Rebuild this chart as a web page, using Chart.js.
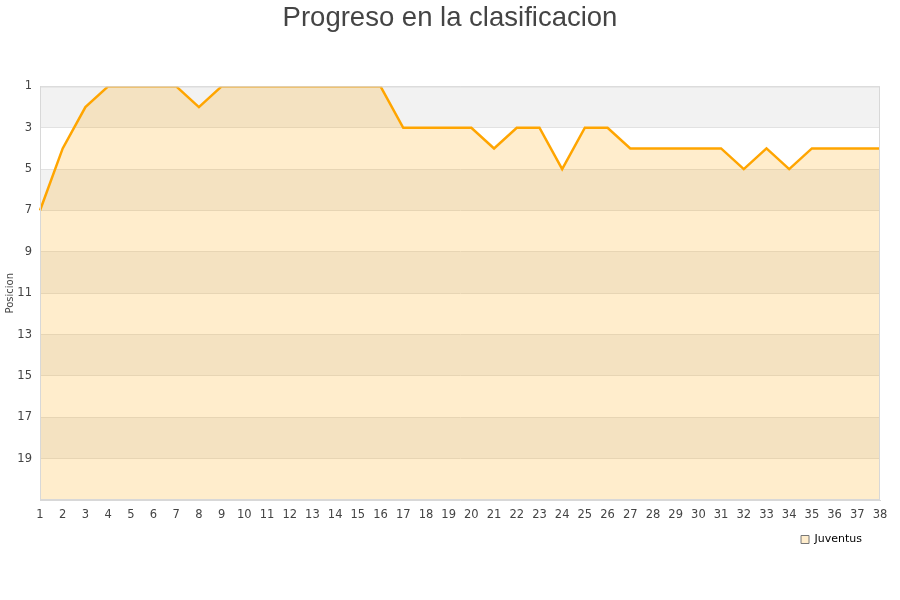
<!DOCTYPE html>
<html>
<head>
<meta charset="utf-8">
<script src="https://cdn.jsdelivr.net/npm/chart.js@4.4.0/dist/chart.umd.min.js"></script>
<style>
  html, body { margin: 0; padding: 0; background: #fff; }
  #wrap { width: 900px; height: 600px; }
</style>
</head>
<body>
<div id="wrap"><canvas id="grafico" width="900" height="600"></canvas></div>
<script>
const jornadas = [];
for (let j = 1; j <= 38; j++) jornadas.push(String(j));
const posiciones = [7, 4, 2, 1, 1, 1, 1, 2, 1, 1, 1, 1, 1, 1, 1, 1, 3, 3, 3, 3,
  4, 3, 3, 5, 3, 3, 4, 4, 4, 4, 4, 5, 4, 5, 4, 4, 4, 4];
const equipo = 'Juventus';
const titulo = 'Progreso en la clasificacion';

// franjas grises alternas del fondo
const fondoFranjas = {
  id: 'fondoFranjas',
  afterLayout(chart) {
    // la leyenda queda un poco mas a la izquierda, el titulo centrado en el lienzo
    chart.legend.left -= 14;
    chart.legend.right -= 14;
    chart.titleBlock.left += 10;
    chart.titleBlock.right += 10;
  },
  beforeDraw(chart) {
    const { ctx, chartArea } = chart;
    const y = chart.scales.y;
    ctx.save();
    ctx.fillStyle = '#f2f2f2';
    for (let v = 1; v < 21; v += 4) {
      const top = y.getPixelForValue(v);
      const bot = y.getPixelForValue(v + 2);
      ctx.fillRect(chartArea.left, top, chartArea.right - chartArea.left, bot - top);
    }
    ctx.restore();
  },
  afterDatasetsDraw(chart) {
    const { ctx, chartArea } = chart;
    ctx.save();
    ctx.strokeStyle = '#d8d8d8';
    ctx.lineWidth = 1;
    ctx.strokeRect(chartArea.left + 0.5, chartArea.top + 0.5,
      chartArea.right - chartArea.left - 1, chartArea.bottom - chartArea.top - 1);
    ctx.restore();
  }
};

const ctx = document.getElementById('grafico').getContext('2d');
new Chart(ctx, {
  type: 'line',
  data: {
    labels: jornadas,
    datasets: [{
      label: equipo,
      data: posiciones,
      borderColor: '#ffa500',
      backgroundColor: 'rgba(255,165,0,0.2)',
      borderWidth: 2.5,
      pointRadius: 0,
      tension: 0,
      fill: 'start'
    }]
  },
  plugins: [fondoFranjas],
  options: {
    responsive: false,
    animation: false,
    layout: { padding: { left: 0, right: 20, top: 0, bottom: 45 } },
    plugins: {
      title: {
        display: true,
        text: titulo,
        color: '#444',
        font: { family: 'Liberation Sans', size: 27.5, weight: 'normal' },
        padding: { top: 2, bottom: 51.4 }
      },
      legend: {
        position: 'bottom',
        align: 'end',
        labels: {
          boxWidth: 8,
          boxHeight: 8,
          color: '#000',
          padding: 4,
          font: { family: 'DejaVu Sans', size: 11 },
          generateLabels(chart) {
            return [{
              text: equipo,
              fillStyle: 'rgba(255,165,0,0.2)',
              strokeStyle: '#777',
              lineWidth: 1,
              datasetIndex: 0
            }];
          }
        }
      },
      tooltip: { enabled: false }
    },
    scales: {
      x: {
        offset: false,
        grid: { display: false },
        border: { color: '#d8d8d8' },
        ticks: {
          autoSkip: false, maxRotation: 0, color: '#444', padding: 0,
          font: { family: 'DejaVu Sans', size: 11.5 }
        },
        afterFit(scale) { scale.height = 30; }
      },
      y: {
        reverse: true,
        min: 1,
        max: 21,
        grid: { color: '#e2e2e2', drawTicks: false },
        border: { color: '#d8d8d8' },
        title: {
          display: true, text: 'Posicion', color: '#444',
          font: { family: 'DejaVu Sans', size: 10 }, padding: { top: 4, bottom: 0 }
        },
        ticks: {
          stepSize: 2, color: '#444', padding: 8,
          font: { family: 'DejaVu Sans', size: 11.5 },
          callback(v) { return v <= 19 ? v : ''; }
        },
        afterFit(scale) { scale.width = 40; }
      }
    }
  }
});
</script>
</body>
</html>
